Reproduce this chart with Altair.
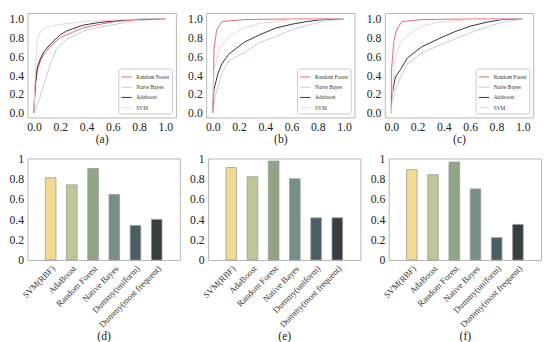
import altair as alt
import pandas as pd

FONT = "Liberation Serif"

MODELS = ["Random Forest", "Naive Bayes", "Adaboost", "SVM"]
MODEL_COLORS = ["#e26a6a", "#c6c9e6", "#2e2e2e", "#f5cdd6"]
MODEL_WIDTHS = [1.0, 1.0, 1.3, 1.0]

# ---- ROC curves, panel (a)
A_RF_FPR = [0.0, 0.0, 0.01, 0.025, 0.05, 0.075, 0.12, 0.2, 0.3, 0.37, 0.5, 0.62, 0.8, 1.0]
A_RF_TPR = [0.0, 0.1, 0.3, 0.45, 0.56, 0.62, 0.7, 0.8, 0.86, 0.9, 0.94, 0.97, 0.99, 1.0]
A_NB_FPR = [0.0, 0.02, 0.04, 0.075, 0.1, 0.125, 0.17, 0.25, 0.37, 0.5, 0.74, 0.9, 1.0]
A_NB_TPR = [0.0, 0.08, 0.14, 0.3, 0.42, 0.52, 0.68, 0.78, 0.865, 0.91, 0.97, 0.99, 1.0]
A_AB_FPR = [0.0, 0.0, 0.01, 0.025, 0.05, 0.075, 0.125, 0.2, 0.25, 0.37, 0.5, 0.72, 0.9, 1.0]
A_AB_TPR = [0.0, 0.04, 0.3, 0.49, 0.58, 0.65, 0.73, 0.83, 0.87, 0.93, 0.96, 0.99, 0.995, 1.0]
A_SVM_FPR = [0.0, 0.01, 0.025, 0.05, 0.1, 0.2, 0.4, 0.6, 0.8, 1.0]
A_SVM_TPR = [0.0, 0.5, 0.78, 0.87, 0.91, 0.94, 0.97, 0.985, 0.995, 1.0]

# ---- ROC curves, panel (b)
B_RF_FPR = [0.0, 0.0, 0.005, 0.01, 0.03, 0.07, 0.24, 0.5, 1.0]
B_RF_TPR = [0.0, 0.03, 0.36, 0.68, 0.88, 0.97, 0.99, 0.995, 1.0]
B_NB_FPR = [0.0, 0.02, 0.07, 0.12, 0.24, 0.36, 0.48, 0.6, 0.72, 0.84, 1.0]
B_NB_TPR = [0.0, 0.18, 0.42, 0.55, 0.64, 0.75, 0.81, 0.88, 0.93, 0.97, 1.0]
B_AB_FPR = [0.0, 0.0, 0.01, 0.04, 0.07, 0.12, 0.24, 0.36, 0.48, 0.6, 0.72, 0.84, 1.0]
B_AB_TPR = [0.0, 0.03, 0.25, 0.42, 0.52, 0.62, 0.75, 0.83, 0.9, 0.94, 0.97, 0.99, 1.0]
B_SVM_FPR = [0.0, 0.01, 0.05, 0.12, 0.24, 0.36, 0.6, 1.0]
B_SVM_TPR = [0.0, 0.45, 0.68, 0.81, 0.9, 0.95, 0.99, 1.0]

# ---- ROC curves, panel (c)
C_RF_FPR = [0.0, 0.0, 0.02, 0.04, 0.08, 0.23, 0.5, 1.0]
C_RF_TPR = [0.0, 0.45, 0.77, 0.88, 0.97, 0.99, 0.995, 1.0]
C_NB_FPR = [0.0, 0.0, 0.02, 0.07, 0.12, 0.23, 0.35, 0.48, 0.6, 0.72, 0.84, 1.0]
C_NB_TPR = [0.0, 0.1, 0.2, 0.38, 0.52, 0.63, 0.71, 0.78, 0.85, 0.91, 0.96, 1.0]
C_AB_FPR = [0.0, 0.0, 0.03, 0.07, 0.12, 0.23, 0.35, 0.48, 0.6, 0.72, 0.84, 1.0]
C_AB_TPR = [0.0, 0.15, 0.38, 0.46, 0.58, 0.7, 0.78, 0.86, 0.92, 0.96, 0.99, 1.0]
C_SVM_FPR = [0.0, 0.02, 0.07, 0.14, 0.23, 0.35, 0.6, 1.0]
C_SVM_TPR = [0.0, 0.55, 0.75, 0.84, 0.92, 0.96, 0.99, 1.0]

# ---- bar charts
CLASSIFIERS = ["SVM(RBF)", "AdaBoost", "Random Forest", "Native Bayes",
               "Dummy(uniform)", "Dummy(most frequent)"]
BAR_COLORS = ["#f3da93", "#bec597", "#8fa584", "#778f88", "#4b5e65", "#353f41"]
D_VALUES = [0.81, 0.74, 0.90, 0.645, 0.34, 0.40]
E_VALUES = [0.91, 0.82, 0.975, 0.80, 0.415, 0.415]
F_VALUES = [0.89, 0.84, 0.965, 0.70, 0.22, 0.35]

ROC_TICKS = [0.0, 0.2, 0.4, 0.6, 0.8, 1.0]


def roc_frame(curves):
    rows = []
    for model, (fpr, tpr) in zip(MODELS, curves):
        for i, (x, y) in enumerate(zip(fpr, tpr)):
            rows.append({"model": model, "fpr": x, "tpr": y, "idx": i})
    return pd.DataFrame(rows)


def roc_panel(curves, caption):
    df = roc_frame(curves)
    return alt.Chart(df).mark_line(clip=True).encode(
        x=alt.X("fpr:Q", scale=alt.Scale(domain=[-0.05, 1.08], nice=False, zero=False),
                axis=alt.Axis(values=ROC_TICKS, format=".1f", title=caption)),
        y=alt.Y("tpr:Q", scale=alt.Scale(domain=[-0.05, 1.06], nice=False, zero=False),
                axis=alt.Axis(values=ROC_TICKS, format=".1f", title=None)),
        color=alt.Color("model:N", scale=alt.Scale(domain=MODELS, range=MODEL_COLORS),
                        legend=alt.Legend(title=None, orient="bottom-right")),
        strokeWidth=alt.StrokeWidth("model:N", scale=alt.Scale(domain=MODELS, range=MODEL_WIDTHS),
                                    legend=None),
        detail="model:N",
        order=alt.Order("idx:Q"),
    ).properties(width=152, height=107)


def bar_panel(values, caption):
    df = pd.DataFrame({"clf": CLASSIFIERS, "value": values})
    return alt.Chart(df).mark_bar(stroke="#9a9a9a", strokeWidth=0.8).encode(
        x=alt.X("clf:N", sort=CLASSIFIERS,
                scale=alt.Scale(paddingInner=0.5, paddingOuter=0.84),
                axis=alt.Axis(title=caption, labelAngle=315, labelAlign="right",
                              labelBaseline="top", labelFontSize=9, labelPadding=4,
                              labelColor="#333333")),
        y=alt.Y("value:Q", scale=alt.Scale(domain=[0, 1], nice=False),
                axis=alt.Axis(values=ROC_TICKS, format=".1~f", title=None)),
        color=alt.Color("clf:N", scale=alt.Scale(domain=CLASSIFIERS, range=BAR_COLORS),
                        legend=None),
    ).properties(width=156, height=104)


top = alt.hconcat(
    roc_panel([(A_RF_FPR, A_RF_TPR), (A_NB_FPR, A_NB_TPR), (A_AB_FPR, A_AB_TPR), (A_SVM_FPR, A_SVM_TPR)], "(a)"),
    roc_panel([(B_RF_FPR, B_RF_TPR), (B_NB_FPR, B_NB_TPR), (B_AB_FPR, B_AB_TPR), (B_SVM_FPR, B_SVM_TPR)], "(b)"),
    roc_panel([(C_RF_FPR, C_RF_TPR), (C_NB_FPR, C_NB_TPR), (C_AB_FPR, C_AB_TPR), (C_SVM_FPR, C_SVM_TPR)], "(c)"),
    spacing=10,
).resolve_scale(color="independent", strokeWidth="independent").resolve_legend(color="independent")

bottom = alt.hconcat(
    bar_panel(D_VALUES, "(d)"),
    bar_panel(E_VALUES, "(e)"),
    bar_panel(F_VALUES, "(f)"),
    spacing=8,
).resolve_scale(color="independent")

chart = alt.vconcat(top, bottom, spacing=6).resolve_scale(
    color="independent", strokeWidth="independent"
).properties(
    padding=0
).configure(
    font=FONT,
).configure_view(
    stroke="#b5b5b5", strokeWidth=1
).configure_axis(
    labelFont=FONT, labelFontSize=12, labelColor="#222222",
    titleFont=FONT, titleFontSize=12, titleFontWeight="normal", titleColor="#222222",
    titlePadding=2, domain=False, ticks=False, grid=False, labelPadding=4,
).configure_legend(
    labelFont=FONT, labelFontSize=5.5, labelColor="#333333",
    fillColor="white", strokeColor="#cccccc", padding=2.5, offset=4,
    symbolType="stroke", symbolSize=110, symbolStrokeWidth=1.2,
    rowPadding=0.5, labelOffset=4, cornerRadius=2,
)

chart.save("out.html", embed_options={"renderer": "svg", "actions": False})
